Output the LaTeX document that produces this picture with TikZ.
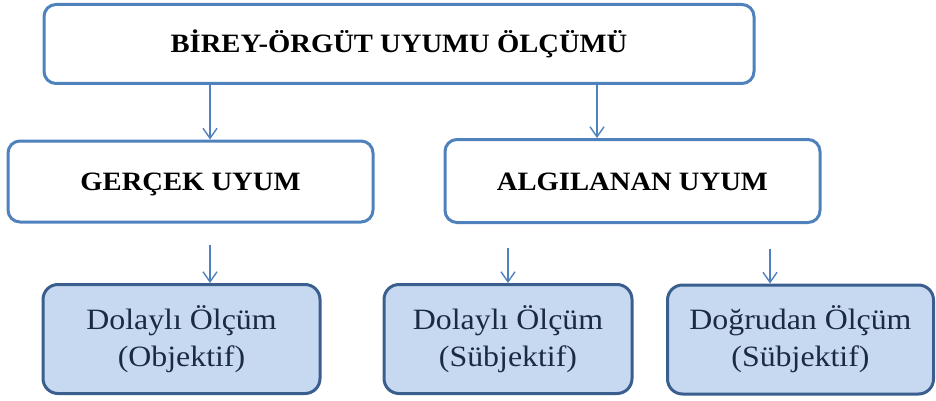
\documentclass[tikz,border=0pt]{standalone}
\usepackage{fontspec}
\setmainfont[FakeStretch=1.08]{Liberation Serif}
\usepackage{xcolor}
\usetikzlibrary{arrows.meta,positioning}

\definecolor{ustmavi}{HTML}{4F81BD}
\definecolor{altcizgi}{HTML}{3A5F8E}
\definecolor{altdolgu}{HTML}{C6D9F1}
\definecolor{altyazi}{HTML}{1B2A41}

\begin{document}
\begin{tikzpicture}[
      x=1pt, y=1pt,
      ustkutu/.style={draw=ustmavi, line width=3pt, rounded corners=12pt, fill=white, align=center,
        font=\fontsize{26.5}{30}\selectfont\bfseries, inner sep=0pt, text height=18pt, text depth=0pt},
      altkutu/.style={draw=altcizgi, line width=3pt, rounded corners=15pt, fill=altdolgu, align=center,
        text=altyazi, font=\fontsize{29.5}{37}\selectfont, inner sep=0pt,
        minimum height=109pt},
      ok/.style={-{Straight Barb[length=10pt, width=14pt]}, line width=1.4pt, draw=ustmavi},
    ]
      \useasboundingbox (0,0) rectangle (936,-401);

      \node[ustkutu, minimum width=710pt, minimum height=79pt] (olcum) at (399,-44) {BİREY-ÖRGÜT UYUMU ÖLÇÜMÜ};
      \node[ustkutu, minimum width=365pt, minimum height=81pt] (gercek) at (190.5,-181.5) {GERÇEK UYUM};
      \node[ustkutu, minimum width=375pt, minimum height=83pt] (algilanan) at (632.5,-181) {ALGILANAN UYUM};

      \node[altkutu, minimum width=277pt] (dolobj) at (181.5,-339) {Dolaylı Ölçüm\\(Objektif)};
      \node[altkutu, minimum width=248pt] (dolsub) at (508,-339) {Dolaylı Ölçüm\\(Sübjektif)};
      \node[altkutu, minimum width=266pt] (dogrudan) at (800.5,-339.5) {Doğrudan Ölçüm\\(Sübjektif)};

      \draw[ok] ([xshift=-189pt]olcum.south) -- ([xshift=19.5pt]gercek.north);
      \draw[ok] ([xshift=198pt]olcum.south) -- ([xshift=-35.5pt]algilanan.north);

      \draw[ok] ([shift={(28.5pt,38pt)}]dolobj.north) -- ([xshift=28.5pt]dolobj.north);
      \draw[ok] ([shift={(0pt,35pt)}]dolsub.north) -- (dolsub.north);
      \draw[ok] ([shift={(-30.5pt,35pt)}]dogrudan.north) -- ([xshift=-30.5pt]dogrudan.north);
    \end{tikzpicture}
\end{document}
